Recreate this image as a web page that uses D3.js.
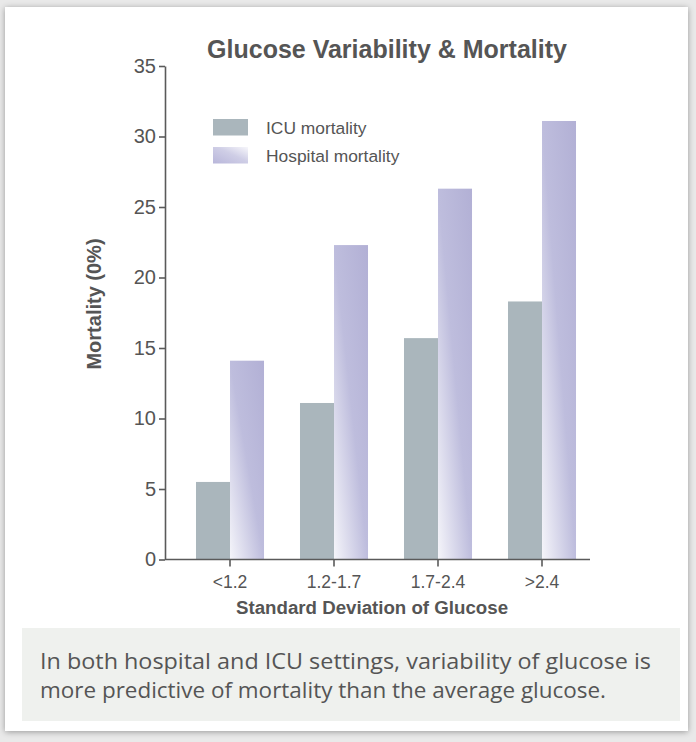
<!DOCTYPE html>
<html>
<head>
<meta charset="utf-8">
<script src="https://cdn.jsdelivr.net/npm/d3@7"></script>
<style>
  html, body { margin: 0; padding: 0; background: #e9e9e9; }
  svg { display: block; }
</style>
</head>
<body>
<svg id="chart" width="696" height="742"></svg>
<script>
// Mortality by standard deviation of glucose
const categories = ["<1.2", "1.2-1.7", "1.7-2.4", ">2.4"];
const seriesNames = ["ICU mortality", "Hospital mortality"];
const icuMortality = [5.5, 11.1, 15.7, 18.3];
const hospitalMortality = [14.1, 22.3, 26.3, 31.1];
const yTicks = [0, 5, 10, 15, 20, 25, 30, 35];
const caption = [
  "In both hospital and ICU settings, variability of glucose is",
  "more predictive of mortality than the average glucose."
];

const svg = d3.select("#chart");
const textColor = "#555555";
const axisColor = "#5a5a5a";
const icuColor = "#aab6bc";
const sans = "Liberation Sans, Arial, Helvetica, sans-serif";

const defs = svg.append("defs");

// soft shadow around the card
const shadow = defs.append("filter").attr("id", "cardShadow")
  .attr("x", "-5%").attr("y", "-5%").attr("width", "110%").attr("height", "110%");
shadow.append("feGaussianBlur").attr("in", "SourceAlpha").attr("stdDeviation", 3).attr("result", "b");
shadow.append("feOffset").attr("in", "b").attr("dx", 0).attr("dy", 1).attr("result", "o");
shadow.append("feComponentTransfer").attr("in", "o").attr("result", "s")
  .append("feFuncA").attr("type", "linear").attr("slope", 0.35);
const merge = shadow.append("feMerge");
merge.append("feMergeNode").attr("in", "s");
merge.append("feMergeNode").attr("in", "SourceGraphic");

// hospital bar fill: pale at lower left, lavender toward upper right
const barGrad = defs.append("linearGradient").attr("id", "hospGrad")
  .attr("x1", 0).attr("y1", 1).attr("x2", 1).attr("y2", 0);
barGrad.append("stop").attr("offset", 0).attr("stop-color", "#f5f5fa");
barGrad.append("stop").attr("offset", 0.5).attr("stop-color", "#bebddd");
barGrad.append("stop").attr("offset", 1).attr("stop-color", "#b2b0d5");

const swatchGrad = defs.append("linearGradient").attr("id", "swatchGrad")
  .attr("x1", 0).attr("y1", 1).attr("x2", 1).attr("y2", 0);
swatchGrad.append("stop").attr("offset", 0).attr("stop-color", "#b8b6da");
swatchGrad.append("stop").attr("offset", 0.55).attr("stop-color", "#cfcee6");
swatchGrad.append("stop").attr("offset", 1).attr("stop-color", "#f7f7fb");

// card
svg.append("rect")
  .attr("x", 5).attr("y", 7).attr("width", 683).attr("height", 724)
  .attr("fill", "#ffffff").attr("filter", "url(#cardShadow)");

// scales
const y = d3.scaleLinear().domain([0, 35]).range([559.5, 66]);
const x = d3.scaleBand().domain(categories).range([178, 594])
  .paddingInner(0.346).paddingOuter(0.173);
const xSub = d3.scaleBand().domain(seriesNames).range([0, x.bandwidth()]);

const rows = categories.map((c, i) => ({
  cat: c,
  values: [
    { key: seriesNames[0], value: icuMortality[i] },
    { key: seriesNames[1], value: hospitalMortality[i] }
  ]
}));

// bars
const groups = svg.append("g").selectAll("g").data(rows).join("g")
  .attr("transform", d => `translate(${x(d.cat)},0)`);
groups.selectAll("rect").data(d => d.values).join("rect")
  .attr("x", d => xSub(d.key))
  .attr("y", d => y(d.value))
  .attr("width", xSub.bandwidth())
  .attr("height", d => y(0) - y(d.value))
  .attr("fill", d => d.key === seriesNames[0] ? icuColor : "url(#hospGrad)");

// y axis
const yAxis = svg.append("g").attr("transform", "translate(165,0)")
  .call(d3.axisLeft(y).tickValues(yTicks).tickSize(6).tickPadding(3).tickSizeOuter(0));
yAxis.select(".domain").attr("stroke", axisColor).attr("stroke-width", 1.6);
yAxis.selectAll(".tick line").attr("stroke", axisColor).attr("stroke-width", 1.6);
yAxis.selectAll(".tick text")
  .attr("fill", textColor).attr("font-family", sans)
  .attr("font-size", 20);

// x axis
const xAxis = svg.append("g").attr("transform", `translate(0,${y(0)})`)
  .call(d3.axisBottom(x).tickSize(7).tickPadding(9).tickSizeOuter(0));
xAxis.select(".domain").remove();
xAxis.insert("line", ":first-child")
  .attr("x1", 165).attr("x2", 590).attr("y1", 0).attr("y2", 0)
  .attr("stroke", axisColor).attr("stroke-width", 1.6);
xAxis.selectAll(".tick line").attr("stroke", axisColor).attr("stroke-width", 1.6);
xAxis.selectAll(".tick text")
  .attr("fill", textColor).attr("font-family", sans)
  .attr("font-size", 17.5);

// title
svg.append("text")
  .attr("x", 387).attr("y", 58).attr("text-anchor", "middle")
  .attr("font-family", sans)
  .attr("font-weight", "bold").attr("font-size", 25)
  .attr("fill", textColor)
  .text("Glucose Variability & Mortality");

// axis titles
svg.append("text")
  .attr("transform", "translate(101,304) rotate(-90)")
  .attr("text-anchor", "middle")
  .attr("font-family", sans)
  .attr("font-weight", "bold").attr("font-size", 20)
  .attr("fill", textColor)
  .text("Mortality (0%)");

svg.append("text")
  .attr("x", 372).attr("y", 614).attr("text-anchor", "middle")
  .attr("font-family", sans)
  .attr("font-weight", "bold").attr("font-size", 18.7)
  .attr("fill", textColor)
  .text("Standard Deviation of Glucose");

// legend
const legend = svg.append("g").attr("transform", "translate(213,119)");
const legendItems = legend.selectAll("g").data(seriesNames).join("g")
  .attr("transform", (d, i) => `translate(0,${i * 28})`);
legendItems.append("rect")
  .attr("width", 35).attr("height", 16.5)
  .attr("fill", (d, i) => i === 0 ? icuColor : "url(#swatchGrad)");
legendItems.append("text")
  .attr("x", 53).attr("y", 15)
  .attr("font-family", sans)
  .attr("font-size", 17.4)
  .attr("fill", textColor)
  .text(d => d);

// caption box
svg.append("rect")
  .attr("x", 22).attr("y", 628).attr("width", 658).attr("height", 93)
  .attr("fill", "#eff1ee");
svg.append("g").selectAll("text").data(caption).join("text")
  .attr("x", 40).attr("y", (d, i) => 669 + i * 29)
  .attr("font-family", "Open Sans, Noto Sans, sans-serif")
  .attr("font-size", 22.5)
  .attr("textLength", (d, i) => i === 0 ? 611 : 566)
  .attr("lengthAdjust", "spacingAndGlyphs")
  .attr("fill", textColor)
  .text(d => d);
</script>
</body>
</html>
